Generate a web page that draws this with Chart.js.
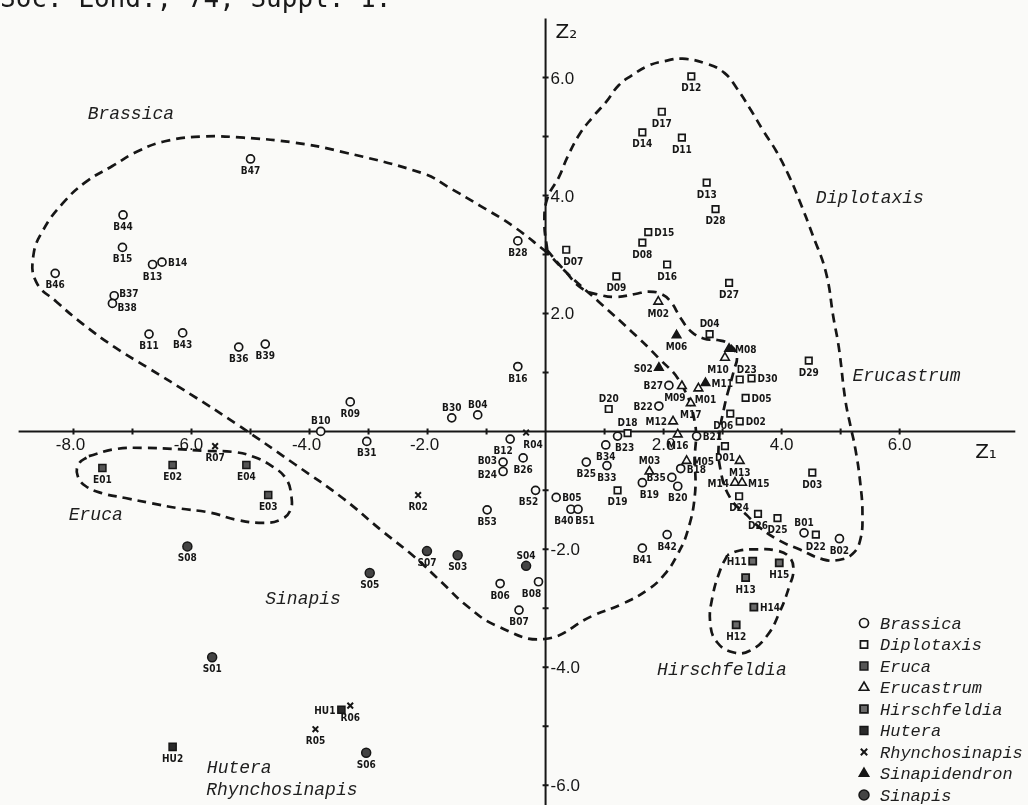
<!DOCTYPE html>
<html>
<head>
<meta charset="utf-8">
<script src="https://cdn.jsdelivr.net/npm/chart.js@4.4.1/dist/chart.umd.min.js"></script>
<style>
  html, body { margin: 0; padding: 0; background: #fafaf8; }
  canvas { display: block; }
</style>
</head>
<body>
<canvas id="plot" width="1028" height="805"></canvas>
<script>
// discriminant scores Z1 / Z2 per accession

const brassicaCodes = ['B47','B44','B15','B14','B13','B46','B37','B38','B11','B43','B36','B39','B10','R09','B28','B16','B30','B04','B31','B12','B26','B03','B24','B52','B05','B40','B51','B53','B06','B08','B07','B25','B27','B22','B23','B21','B34','B33','B18','B35','B19','B20','B42','B41','B01','B02'];
const brassicaZ1 = [-5.00,-7.16,-7.17,-6.50,-6.66,-8.31,-7.31,-7.34,-6.72,-6.15,-5.20,-4.75,-3.81,-3.31,-0.47,-0.47,-1.59,-1.15,-3.03,-0.60,-0.38,-0.72,-0.72,-0.17,0.18,0.43,0.55,-0.99,-0.77,-0.12,-0.45,0.69,2.09,1.92,1.22,2.56,1.02,1.04,2.29,2.14,1.64,2.24,2.06,1.64,4.38,4.98];
const brassicaZ2 = [4.62,3.67,3.12,2.87,2.83,2.68,2.30,2.17,1.65,1.67,1.43,1.48,0.00,0.50,3.23,1.10,0.23,0.28,-0.17,-0.13,-0.45,-0.52,-0.68,-1.00,-1.12,-1.32,-1.32,-1.33,-2.58,-2.55,-3.03,-0.52,0.78,0.43,-0.08,-0.08,-0.23,-0.58,-0.63,-0.78,-0.87,-0.93,-1.75,-1.98,-1.72,-1.82];

const diplotaxisCodes = ['D12','D17','D14','D11','D13','D28','D15','D08','D07','D16','D09','D27','D04','D29','D23','D30','D05','D20','D06','D02','D18','D01','D03','D19','D24','D26','D25','D22'];
const diplotaxisZ1 = [2.47,1.97,1.64,2.31,2.73,2.88,1.74,1.64,0.35,2.06,1.20,3.11,2.78,4.46,3.29,3.49,3.39,1.07,3.13,3.29,1.39,3.04,4.52,1.22,3.28,3.60,3.93,4.58];
const diplotaxisZ2 = [6.02,5.42,5.07,4.98,4.22,3.77,3.38,3.20,3.08,2.83,2.63,2.52,1.65,1.20,0.88,0.90,0.57,0.38,0.30,0.17,-0.03,-0.25,-0.70,-1.00,-1.10,-1.40,-1.47,-1.75];

const erucaCodes = ['E01','E02','E04','E03'];
const erucaZ1 = [-7.51,-6.32,-5.07,-4.70];
const erucaZ2 = [-0.62,-0.57,-0.57,-1.08];

const erucastrumCodes = ['M02','M10','M09','M01','M17','M12','M16','M05','M03','M13','M14','M15'];
const erucastrumZ1 = [1.91,3.04,2.31,2.59,2.46,2.16,2.24,2.39,1.76,3.29,3.21,3.33];
const erucastrumZ2 = [2.20,1.25,0.77,0.73,0.48,0.17,-0.05,-0.50,-0.68,-0.50,-0.87,-0.87];

const hirschfeldiaCodes = ['H11','H15','H13','H14','H12'];
const hirschfeldiaZ1 = [3.51,3.96,3.39,3.53,3.23];
const hirschfeldiaZ2 = [-2.20,-2.23,-2.48,-2.98,-3.28];

const huteraCodes = ['HU1','HU2'];
const huteraZ1 = [-3.46,-6.32];
const huteraZ2 = [-4.72,-5.35];

const rhynchoCodes = ['R07','R04','R02','R06','R05'];
const rhynchoZ1 = [-5.60,-0.33,-2.16,-3.31,-3.90];
const rhynchoZ2 = [-0.25,-0.02,-1.08,-4.65,-5.05];

const sinapidendronCodes = ['S02','M06','M08','M11'];
const sinapidendronZ1 = [1.92,2.22,3.11,2.71];
const sinapidendronZ2 = [1.08,1.63,1.40,0.82];

const sinapisCodes = ['S08','S07','S03','S04','S05','S01','S06'];
const sinapisZ1 = [-6.07,-2.01,-1.49,-0.33,-2.98,-5.65,-3.04];
const sinapisZ2 = [-1.95,-2.03,-2.10,-2.28,-2.40,-3.83,-5.45];

// hand drawn group outlines (dashed)
const brassicaHullZ1 = [0.03,-0.55,-1.10,-1.66,-2.06,-3.49,-4.28,-5.12,-5.79,-6.45,-6.91,-7.34,-7.79,-8.18,-8.51,-8.68,-8.63,-8.29,-7.84,-7.29,-6.74,-6.00,-5.23,-4.23,-3.44,-2.78,-2.22,-1.77,-1.32,-0.82,-0.02,0.79,1.29,1.74,2.02,2.24,2.41,2.53,2.53,2.53,2.29,1.91,1.45,0.90,0.40,0.03];
const brassicaHullZ2 = [3.03,3.48,3.82,4.15,4.37,4.75,4.90,4.98,5.00,4.92,4.75,4.50,4.23,3.87,3.42,2.98,2.53,2.20,1.82,1.42,1.08,0.62,0.12,-0.57,-1.13,-1.68,-2.13,-2.55,-2.97,-3.30,-3.52,-3.13,-2.93,-2.68,-2.42,-2.08,-1.68,-1.08,-0.47,0.15,0.82,1.25,1.70,2.20,2.65,3.03];

const diplotaxisHullZ1 = [0.03,-0.02,0.03,0.23,0.37,0.57,0.79,1.02,1.24,1.45,1.74,2.02,2.32,2.74,3.03,3.24,3.46,3.70,3.91,4.13,4.30,4.53,4.75,4.88,4.97,5.08,5.17,5.25,5.33,5.37,5.33,5.20,4.97,4.70,4.30,3.96,3.63,3.41,3.13,2.96,2.94,3.03,3.19,3.24,3.11,2.91,2.69,2.46,2.29,2.12,1.96,1.74,1.52,1.19,0.90,0.62,0.32,0.03];
const diplotaxisHullZ2 = [3.07,3.53,3.95,4.32,4.65,5.03,5.32,5.58,5.87,6.03,6.20,6.28,6.32,6.23,6.08,5.82,5.48,5.08,4.75,4.32,3.92,3.32,2.70,1.92,1.42,0.53,0.08,-0.30,-0.85,-1.42,-1.85,-2.08,-2.18,-2.17,-2.00,-1.85,-1.63,-1.42,-1.13,-0.63,-0.13,0.42,1.03,1.28,1.48,1.55,1.57,1.70,1.92,2.20,2.33,2.37,2.33,2.28,2.32,2.42,2.73,3.07];

const erucaHullZ1 = [-7.74,-7.29,-6.79,-6.24,-5.79,-5.28,-4.95,-4.62,-4.40,-4.31,-4.33,-4.50,-4.78,-5.23,-5.67,-6.24,-6.67,-7.12,-7.51,-7.79,-7.93,-7.91,-7.74];
const erucaHullZ2 = [-0.42,-0.30,-0.28,-0.30,-0.33,-0.35,-0.43,-0.60,-0.80,-1.08,-1.35,-1.50,-1.55,-1.50,-1.38,-1.30,-1.22,-1.13,-1.05,-0.93,-0.75,-0.55,-0.42];

const hirschHullZ1 = [3.08,2.96,2.83,2.79,2.91,3.19,3.46,3.75,3.96,4.13,4.20,4.13,3.91,3.58,3.29,3.08];
const hirschHullZ2 = [-2.10,-2.35,-2.80,-3.25,-3.58,-3.75,-3.72,-3.47,-3.08,-2.63,-2.35,-2.13,-2.02,-2.00,-2.02,-2.10];

const xTickLabels = [-8, -6, -4, -2, 2, 4, 6];
const yTickLabels = [6, 4, 2, -2, -4, -6];

// label placement for the accession codes (default: under the mark)
const labelSide = {
  B14:'r', B37:'ru', B38:'rd', B10:'a', B30:'a', B04:'a', B12:'bl', B03:'lu', B24:'ld',
  B05:'r', B40:'bl', B51:'br', S04:'a', B08:'bl', D15:'r', D20:'a', D18:'a', D23:'ar',
  D30:'r', D05:'r', D02:'r', D06:'bl', D04:'a', M08:'r', M11:'r', M12:'l', B27:'l',
  B22:'l', S02:'l', B21:'r', M03:'a', M05:'r', B18:'r', B35:'l', B19:'br', M14:'l',
  M15:'r', B01:'a', H11:'l', H14:'r', HU1:'l', R04:'br', M09:'bl', D07:'br', B23:'br',
  M10:'bl', M01:'br', B52:'bl'
};

const ink = '#161616';
const paperTone = '#fafaf8';

function pts(a, b) {
  return a.map((v, i) => ({ x: v, y: b[i] }));
}

function hull(z1, z2) {
  return {
    data: pts(z1, z2), showLine: true, fill: false, tension: 0.45,
    borderColor: ink, borderWidth: 2.7, borderDash: [9, 6],
    pointRadius: 0, order: 2
  };
}

function genus(name, codes, z1, z2, style, radius, fillColor, bw) {
  return {
    label: name, codes: codes, data: pts(z1, z2), order: 1,
    pointStyle: style, pointRadius: radius, pointBackgroundColor: fillColor,
    pointBorderColor: ink, pointBorderWidth: bw
  };
}

const genusSets = [
  genus('Brassica', brassicaCodes, brassicaZ1, brassicaZ2, 'circle', 4, paperTone, 1.7),
  genus('Diplotaxis', diplotaxisCodes, diplotaxisZ1, diplotaxisZ2, 'rect', 4.6, paperTone, 1.7),
  genus('Eruca', erucaCodes, erucaZ1, erucaZ2, 'rect', 5, '#555', 1.5),
  genus('Erucastrum', erucastrumCodes, erucastrumZ1, erucastrumZ2, 'triangle', 5, paperTone, 1.6),
  genus('Hirschfeldia', hirschfeldiaCodes, hirschfeldiaZ1, hirschfeldiaZ2, 'rect', 5, '#6a6a6a', 1.8),
  genus('Hutera', huteraCodes, huteraZ1, huteraZ2, 'rect', 5, '#2a2a2a', 1.5),
  genus('Rhynchosinapis', rhynchoCodes, rhynchoZ1, rhynchoZ2, 'crossRot', 4, ink, 2),
  genus('Sinapidendron', sinapidendronCodes, sinapidendronZ1, sinapidendronZ2, 'triangle', 5, ink, 1.5),
  genus('Sinapis', sinapisCodes, sinapisZ1, sinapisZ2, 'circle', 4.5, '#444', 1.5)
];

// group names written on the plot (left edge / baseline, in Z units)
const regionNames = [
  { text: 'Brassica', z1: -7.76, z2: 5.30 },
  { text: 'Diplotaxis', z1: 4.58, z2: 3.87 },
  { text: 'Erucastrum', z1: 5.20, z2: 0.85 },
  { text: 'Eruca', z1: -8.08, z2: -1.50 },
  { text: 'Sinapis', z1: -4.75, z2: -2.92 },
  { text: 'Hirschfeldia', z1: 1.89, z2: -4.13 },
  { text: 'Hutera', z1: -5.74, z2: -5.80 },
  { text: 'Rhynchosinapis', z1: -5.75, z2: -6.17 }
];

const paper = {
  id: 'paper',
  beforeDraw(chart) {
    const ctx = chart.ctx;
    ctx.save();
    ctx.fillStyle = paperTone;
    ctx.fillRect(0, 0, chart.width, chart.height);
    ctx.fillStyle = '#1a1a1a';
    ctx.font = '26px "DejaVu Sans Mono", monospace';
    ctx.textBaseline = 'alphabetic';
    ctx.fillText('Soc. Lond., 74, Suppl. 1.', 0, 7);
    ctx.restore();
  }
};

const crossAxes = {
  id: 'crossAxes',
  beforeDatasetsDraw(chart) {
    const { ctx, scales: { x, y } } = chart;
    const x0 = x.getPixelForValue(0), y0 = y.getPixelForValue(0);
    ctx.save();
    ctx.strokeStyle = ink;
    ctx.lineWidth = 2;
    ctx.beginPath();
    ctx.moveTo(x.getPixelForValue(-8.93), y0);
    ctx.lineTo(x.getPixelForValue(7.96), y0);
    ctx.moveTo(x0, y.getPixelForValue(7.0));
    ctx.lineTo(x0, chart.height);
    for (let v = -8; v <= 6; v++) {
      if (v === 0) continue;
      const p = x.getPixelForValue(v);
      ctx.moveTo(p, y0 - 3); ctx.lineTo(p, y0 + 3);
    }
    for (let v = -6; v <= 6; v++) {
      if (v === 0) continue;
      const p = y.getPixelForValue(v);
      ctx.moveTo(x0 - 3, p); ctx.lineTo(x0 + 3, p);
    }
    ctx.stroke();

    ctx.fillStyle = ink;
    ctx.font = '17px "Liberation Sans", Arial, sans-serif';
    ctx.textBaseline = 'alphabetic';
    ctx.textAlign = 'center';
    xTickLabels.forEach(v => {
      ctx.fillText(v.toFixed(1), x.getPixelForValue(v) - (v < 0 ? 3 : 0), y0 + 19);
    });
    ctx.textAlign = 'left';
    yTickLabels.forEach(v => {
      ctx.fillText(v.toFixed(1), x0 + 5, y.getPixelForValue(v) + 6);
    });
    ctx.font = '20px "DejaVu Sans", sans-serif';
    ctx.fillText('Z₁', x.getPixelForValue(7.28), y0 + 27);
    ctx.fillText('Z₂', x0 + 10, y.getPixelForValue(6.67));
    ctx.restore();
  }
};

const codeLabels = {
  id: 'codeLabels',
  afterDatasetsDraw(chart) {
    const ctx = chart.ctx;
    ctx.save();
    ctx.fillStyle = ink;
    ctx.font = 'bold 10px "DejaVu Sans Condensed", "DejaVu Sans", sans-serif';
    ctx.textBaseline = 'alphabetic';
    chart.data.datasets.forEach((ds, i) => {
      if (!ds.codes) return;
      chart.getDatasetMeta(i).data.forEach((pt, j) => {
        const code = ds.codes[j];
        const side = labelSide[code] || 'b';
        let tx = pt.x, ty = pt.y + 15, align = 'center';
        if (side === 'a') { ty = pt.y - 7; }
        else if (side === 'ar') { tx = pt.x + 7; ty = pt.y - 7; }
        else if (side === 'r') { tx = pt.x + 6; ty = pt.y + 4; align = 'left'; }
        else if (side === 'l') { tx = pt.x - 6; ty = pt.y + 4; align = 'right'; }
        else if (side === 'ru') { tx = pt.x + 5; ty = pt.y + 1; align = 'left'; }
        else if (side === 'rd') { tx = pt.x + 5; ty = pt.y + 8; align = 'left'; }
        else if (side === 'lu') { tx = pt.x - 6; ty = pt.y + 2; align = 'right'; }
        else if (side === 'ld') { tx = pt.x - 6; ty = pt.y + 7; align = 'right'; }
        else if (side === 'bl') { tx = pt.x - 7; }
        else if (side === 'br') { tx = pt.x + 7; }
        ctx.textAlign = align;
        ctx.fillText(code, tx, ty);
      });
    });
    ctx.restore();
  }
};

const regionText = {
  id: 'regionText',
  afterDatasetsDraw(chart) {
    const { ctx, scales: { x, y } } = chart;
    ctx.save();
    ctx.fillStyle = '#1e1e1e';
    ctx.font = 'italic 18px "Liberation Mono", "Courier New", monospace';
    ctx.textAlign = 'left';
    ctx.textBaseline = 'alphabetic';
    regionNames.forEach(r => {
      ctx.fillText(r.text, x.getPixelForValue(r.z1), y.getPixelForValue(r.z2));
    });
    ctx.restore();
  }
};

const keyBox = {
  id: 'keyBox',
  afterDraw(chart) {
    const ctx = chart.ctx;
    ctx.save();
    ctx.font = 'italic 17px "Liberation Mono", "Courier New", monospace';
    ctx.textAlign = 'left';
    ctx.textBaseline = 'middle';
    chart.data.datasets.forEach((ds, i) => {
      if (!ds.codes) return;
      const k = genusSets.indexOf(ds);
      const ky = 623 + k * 21.5;
      ctx.fillStyle = ds.pointBackgroundColor;
      ctx.strokeStyle = ink;
      ctx.lineWidth = ds.pointBorderWidth;
      Chart.helpers.drawPoint(ctx, {
        pointStyle: ds.pointStyle, radius: ds.pointRadius + 0.5,
        rotation: 0, borderWidth: ds.pointBorderWidth
      }, 864, ky);
      ctx.fillStyle = '#1e1e1e';
      ctx.fillText(ds.label, 880, ky + 1);
    });
    ctx.restore();
  }
};

new Chart(document.querySelector('#plot').getContext('2d'), {
  type: 'scatter',
  data: {
    datasets: [
      hull(brassicaHullZ1, brassicaHullZ2),
      hull(diplotaxisHullZ1, diplotaxisHullZ2),
      hull(erucaHullZ1, erucaHullZ2),
      hull(hirschHullZ1, hirschHullZ2),
      ...genusSets
    ]
  },
  options: {
    responsive: false,
    animation: false,
    events: [],
    layout: { padding: 0 },
    scales: {
      x: { type: 'linear', min: -9.13, max: 8.06, display: false },
      y: { type: 'linear', min: -6.22, max: 7.2, display: false }
    },
    plugins: {
      legend: { display: false },
      tooltip: { enabled: false }
    }
  },
  plugins: [paper, crossAxes, codeLabels, regionText, keyBox]
});
</script>
</body>
</html>
